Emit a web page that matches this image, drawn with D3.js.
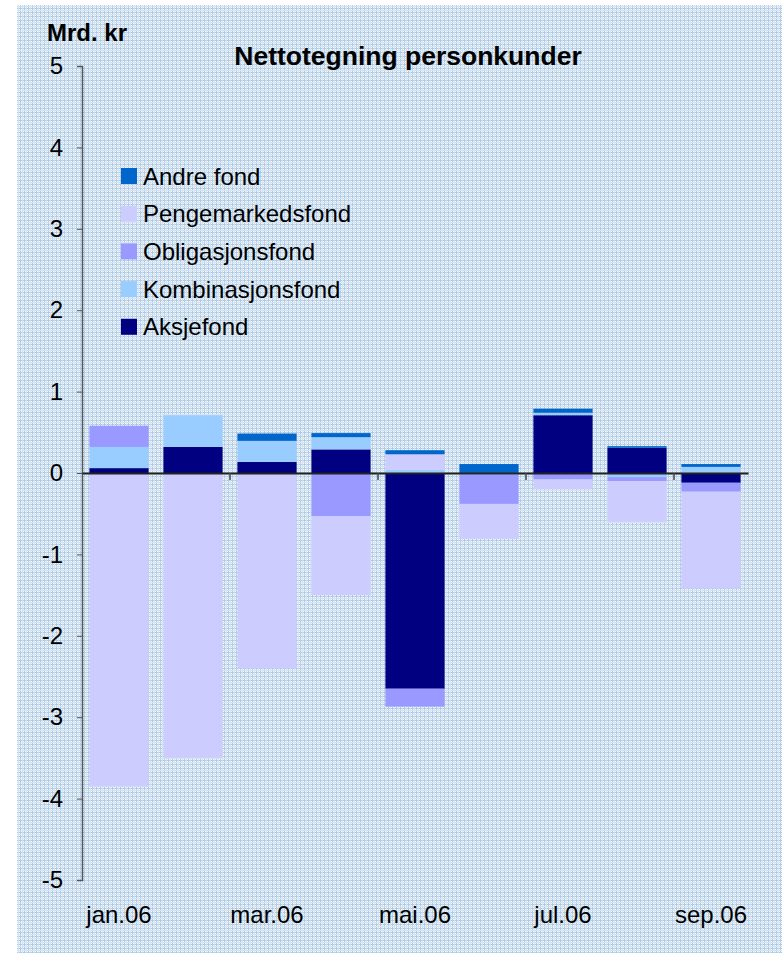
<!DOCTYPE html>
<html><head><meta charset="utf-8">
<script src="https://cdn.jsdelivr.net/npm/d3@7"></script>
<style>body{margin:0;background:#fff}svg{display:block}text{font-family:"Liberation Sans",Arial,sans-serif}</style>
</head><body>
<script>
const months = ["jan.06","feb.06","mar.06","apr.06","mai.06","jun.06","jul.06","aug.06","sep.06"];
const shownMonths = ["jan.06","mar.06","mai.06","jul.06","sep.06"];
const yTicks = [-5,-4,-3,-2,-1,0,1,2,3,4,5];
// stacking order bottom-up
const seriesNames = ["Aksjefond","Kombinasjonsfond","Obligasjonsfond","Pengemarkedsfond","Andre fond"];
const legendOrder = ["Andre fond","Pengemarkedsfond","Obligasjonsfond","Kombinasjonsfond","Aksjefond"];
const aksjefond       = [0.06, 0.32, 0.135, 0.29, -2.65, 0, 0.71, 0.31, -0.12];
const kombinasjonsfond= [0.26, 0.39, 0.26, 0.15, 0.04, -0.02, 0.03, -0.05, 0.075];
const obligasjonsfond = [0.26, 0, 0, -0.53, -0.22, -0.36, -0.08, -0.05, -0.11];
const pengemarkedsfond= [-3.85, -3.50, -2.40, -0.97, 0.19, -0.43, -0.12, -0.50, -1.19];
const andreFond       = [0, 0, 0.09, 0.05, 0.05, 0.11, 0.05, 0.02, 0.035];
const colors = {"Aksjefond":"#000080","Kombinasjonsfond":"#99CCFF","Obligasjonsfond":"#9999FF","Pengemarkedsfond":"#CCCCFF","Andre fond":"#0066CC"};

const seriesVals = {"Aksjefond":aksjefond,"Kombinasjonsfond":kombinasjonsfond,"Obligasjonsfond":obligasjonsfond,"Pengemarkedsfond":pengemarkedsfond,"Andre fond":andreFond};
const table = months.map((m,i)=>{const o={month:m}; seriesNames.forEach(s=>o[s]=seriesVals[s][i]); return o;});

const W=782,H=953;
const svg=d3.select("body").append("svg").attr("width",W).attr("height",H);
const defs=svg.append("defs");
const pat=defs.append("pattern").attr("id","bg").attr("patternUnits","userSpaceOnUse").attr("width",4).attr("height",4);
pat.append("rect").attr("width",4).attr("height",4).attr("fill","#f3f7fc");
pat.append("rect").attr("x",0).attr("y",0).attr("width",1).attr("height",4).attr("fill","#aecae4");
pat.append("rect").attr("x",0).attr("y",0).attr("width",4).attr("height",1).attr("fill","#aecae4");
pat.append("rect").attr("x",2).attr("y",0).attr("width",1).attr("height",4).attr("fill","#d3e3f1");
pat.append("rect").attr("x",0).attr("y",2).attr("width",4).attr("height",1).attr("fill","#d3e3f1");
svg.append("rect").attr("x",17).attr("y",5).attr("width",W-17).attr("height",H-5).attr("fill","url(#bg)");

const x=d3.scaleBand().domain(months).range([82,748]).paddingInner(0.2).paddingOuter(0.1);
const y=d3.scaleLinear().domain([-5,5]).range([880,66]);

const stack=d3.stack().keys(seriesNames).offset(d3.stackOffsetDiverging);
const layers=stack(table);
svg.append("g").selectAll("g").data(layers).join("g").attr("fill",d=>colors[d.key])
  .selectAll("rect").data(d=>d).join("rect")
  .attr("x",d=>x(d.data.month)).attr("width",x.bandwidth())
  .attr("y",d=>y(Math.max(d[0],d[1]))).attr("height",d=>Math.abs(y(d[0])-y(d[1])));

// y axis
const ya=svg.append("g").attr("transform","translate(82,0)")
  .call(d3.axisLeft(y).tickValues(yTicks).tickSize(5).tickPadding(14).tickFormat(d=>String(d)));
ya.select(".domain").attr("stroke","#555").attr("stroke-width",1.5);
ya.selectAll(".tick line").attr("stroke","#555");
ya.selectAll("text").attr("font-size",24).attr("fill","#000").attr("font-family","Liberation Sans, Arial, sans-serif");

// x axis at zero
const xa=svg.append("g").attr("transform",`translate(0,${y(0)})`)
  .call(d3.axisBottom(x).tickValues(shownMonths).tickSize(0).tickFormat(""));
xa.select(".domain").attr("stroke","#222").attr("stroke-width",2);
xa.selectAll(".tick").remove();
const step=x.step();
const boundaries=[2,4,6,8];
xa.selectAll("line.tk").data(boundaries).join("line").attr("class","tk")
  .attr("x1",d=>82+d*step).attr("x2",d=>82+d*step).attr("y1",0).attr("y2",7).attr("stroke","#444").attr("stroke-width",1.5);
svg.append("g").selectAll("text").data(shownMonths).join("text")
  .attr("x",d=>x(d)+x.bandwidth()/2).attr("y",923).attr("text-anchor","middle")
  .attr("font-size",24).text(d=>d);

// titles
svg.append("text").attr("x",47).attr("y",41).attr("font-size",24).attr("font-weight","bold").text("Mrd. kr");
svg.append("text").attr("x",408).attr("y",65).attr("text-anchor","middle").attr("font-size",26.5).attr("font-weight","bold").text("Nettotegning personkunder");

// legend
const lg=svg.append("g").selectAll("g").data(legendOrder).join("g")
  .attr("transform",(d,i)=>`translate(121,${176+i*37.7})`);
lg.append("rect").attr("x",0).attr("y",-8).attr("width",16).attr("height",16).attr("fill",d=>colors[d]);
lg.append("text").attr("x",22).attr("y",8.5).attr("font-size",24).text(d=>d);
</script>
</body></html>
